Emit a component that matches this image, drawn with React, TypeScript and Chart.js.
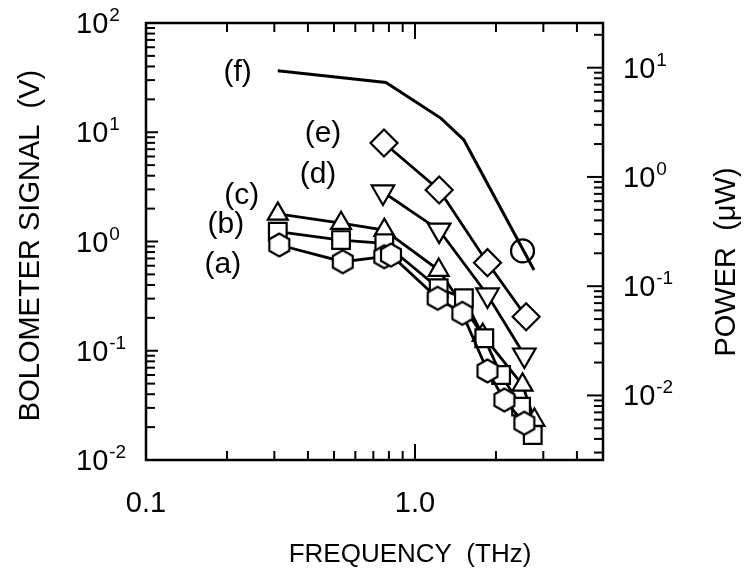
import React, { useEffect, useRef } from "react";
import { Chart, registerables } from "chart.js";

Chart.register(...registerables);

// ---- data (frequency in THz, bolometer signal in V) ----
const aFreq = [0.313, 0.539, 0.769, 0.814, 1.214, 1.5, 1.86, 2.15, 2.55];
const aVal = [0.929, 0.653, 0.726, 0.751, 0.302, 0.22, 0.0653, 0.0354, 0.0217];

const bFreq = [0.309, 0.531, 0.769, 1.225, 1.52, 1.81, 2.09, 2.48, 2.74];
const bVal = [1.23, 1.03, 0.963, 0.373, 0.302, 0.13, 0.06, 0.0308, 0.0169];

const cFreq = [0.309, 0.531, 0.769, 1.225, 1.785, 2.51, 2.78];
const cVal = [1.79, 1.47, 1.27, 0.548, 0.139, 0.0487, 0.0232];

const dFreq = [0.76, 1.23, 1.86, 2.55];
const dVal = [2.84, 1.27, 0.324, 0.0914];

const eFreq = [0.767, 1.23, 1.86, 2.59];
const eVal = [7.98, 2.96, 0.64, 0.205];

const fFreq = [0.309, 0.78, 1.25, 1.52, 2.77];
const fVal = [36.6, 28.5, 13.4, 8.5, 0.548];

const circleFreq = [2.51];
const circleVal = [0.82];

// series labels and where they sit (data coordinates)
const seriesLabels = ["(a)", "(b)", "(c)", "(d)", "(e)", "(f)"];
const labelFreq = [0.193, 0.198, 0.227, 0.436, 0.455, 0.219];
const labelVal = [0.609, 1.42, 2.61, 4.06, 9.64, 34.8];

// axis ticks
const xMajorTicks = [1];
const xMinorTicks = [0.2, 0.3, 0.4, 0.5, 0.6, 0.7, 0.8, 0.9, 2, 3, 4];
const xTickLabels = ["0.1", "1.0"];
const xTickLabelValues = [0.1, 1];
const leftExponents = [2, 1, 0, -1, -2];
const rightExponents = [1, 0, -1, -2];
const minorMultipliers = [2, 3, 4, 5, 6, 7, 8, 9];
const powerFactor = 0.2565; // POWER (uW) per BOLOMETER volt

const FONT = '"Liberation Sans", Arial, Helvetica, sans-serif';

function pts(xs: number[], ys: number[]) {
  return xs.map((x, i) => ({ x, y: ys[i] }));
}

function makeHex(r: number, lw: number) {
  const size = Math.ceil(2 * r + lw * 2 + 2);
  const c = document.createElement("canvas");
  c.width = size;
  c.height = size;
  const g = c.getContext("2d")!;
  g.beginPath();
  for (let i = 0; i < 6; i++) {
    const ang = Math.PI / 2 + (i * Math.PI) / 3;
    const px = size / 2 + r * Math.cos(ang);
    const py = size / 2 - r * Math.sin(ang);
    if (i === 0) g.moveTo(px, py);
    else g.lineTo(px, py);
  }
  g.closePath();
  g.fillStyle = "#fff";
  g.fill();
  g.lineWidth = lw;
  g.strokeStyle = "#000";
  g.stroke();
  return c;
}

function drawPow(ctx: CanvasRenderingContext2D, exp: number, x: number, y: number) {
  const base = "10";
  ctx.textAlign = "left";
  ctx.textBaseline = "alphabetic";
  ctx.font = `29px ${FONT}`;
  const bw = ctx.measureText(base).width;
  const baseline = y + 10;
  ctx.fillText(base, x, baseline);
  ctx.font = `19px ${FONT}`;
  ctx.fillText(String(exp), x + bw + 1, baseline - 12);
}

const framePlugin = {
  id: "frame",
  afterDraw(chart: any) {
    const { ctx, chartArea: a, scales } = chart;
    const xs = scales.x;
    const ys = scales.y;
    const y2 = scales.y2;
    ctx.save();
    ctx.strokeStyle = "#000";
    ctx.fillStyle = "#000";
    ctx.lineWidth = 2.5;
    ctx.strokeRect(a.left, a.top, a.right - a.left, a.bottom - a.top);

    const line = (x1: number, y1: number, x2: number, y2p: number) => {
      ctx.beginPath();
      ctx.moveTo(x1, y1);
      ctx.lineTo(x2, y2p);
      ctx.stroke();
    };
    ctx.lineWidth = 2;
    const MAJ = 16;
    const MIN = 9;
    // x ticks (top and bottom, inward)
    for (const v of xMajorTicks) {
      const px = xs.getPixelForValue(v);
      line(px, a.bottom, px, a.bottom - MAJ);
      line(px, a.top, px, a.top + MAJ);
    }
    for (const v of xMinorTicks) {
      const px = xs.getPixelForValue(v);
      line(px, a.bottom, px, a.bottom - MIN);
      line(px, a.top, px, a.top + MIN);
    }
    // left y ticks
    for (const e of leftExponents) {
      const py = ys.getPixelForValue(Math.pow(10, e));
      line(a.left, py, a.left + MAJ - 4, py);
      if (e < 2) {
        for (const m of minorMultipliers) {
          const pm = ys.getPixelForValue(m * Math.pow(10, e));
          line(a.left, pm, a.left + MIN, pm);
        }
      }
    }
    // right y ticks
    for (let e = -3; e <= 1; e++) {
      const v = Math.pow(10, e);
      if (v >= y2.min && v <= y2.max) {
        const py = y2.getPixelForValue(v);
        line(a.right, py, a.right - MAJ, py);
      }
      for (const m of minorMultipliers) {
        const mv = m * v;
        if (mv >= y2.min && mv <= y2.max) {
          const pm = y2.getPixelForValue(mv);
          line(a.right, pm, a.right - MIN, pm);
        }
      }
    }

    // tick labels
    for (const e of leftExponents) {
      drawPow(ctx, e, 76, ys.getPixelForValue(Math.pow(10, e)));
    }
    for (const e of rightExponents) {
      drawPow(ctx, e, 623, y2.getPixelForValue(Math.pow(10, e)));
    }
    ctx.font = `29px ${FONT}`;
    ctx.textAlign = "center";
    ctx.textBaseline = "alphabetic";
    xTickLabels.forEach((t, i) => {
      ctx.fillText(t, xs.getPixelForValue(xTickLabelValues[i]), 512);
    });

    // axis titles
    ctx.font = `26px ${FONT}`;
    ctx.textAlign = "center";
    ctx.fillText("FREQUENCY  (THz)", 410, 562);

    ctx.font = `29px ${FONT}`;
    ctx.save();
    ctx.translate(39, (a.top + a.bottom) / 2 + 4);
    ctx.rotate(-Math.PI / 2);
    ctx.textBaseline = "alphabetic";
    ctx.fillText("BOLOMETER SIGNAL  (V)", 0, 0);
    ctx.restore();

    ctx.save();
    ctx.translate(735, 262);
    ctx.rotate(-Math.PI / 2);
    ctx.fillText("POWER  (\u03BCW)", 0, 0);
    ctx.restore();

    // series labels
    ctx.font = `30px ${FONT}`;
    ctx.textAlign = "center";
    ctx.textBaseline = "middle";
    seriesLabels.forEach((t, i) => {
      ctx.fillText(t, xs.getPixelForValue(labelFreq[i]), ys.getPixelForValue(labelVal[i]));
    });
    ctx.restore();
  },
};

export default function App() {
  const ref = useRef<HTMLCanvasElement | null>(null);
  useEffect(() => {
    if (!ref.current) return;
    const hex = makeHex(11.5, 2.2);
    const common = {
      showLine: true,
      borderColor: "#000",
      borderWidth: 2.8,
      pointBackgroundColor: "#fff",
      pointBorderColor: "#000",
      pointBorderWidth: 2.2,
    };
    const chart = new Chart(ref.current, {
      type: "scatter",
      data: {
        datasets: [
          { ...common, label: "(a)", data: pts(aFreq, aVal), pointStyle: hex as any, pointRadius: 11.5 },
          { ...common, label: "(b)", data: pts(bFreq, bVal), pointStyle: "rect", pointRadius: 12.5 },
          { ...common, label: "(c)", data: pts(cFreq, cVal), pointStyle: "triangle", pointRadius: 11.5 },
          { ...common, label: "(d)", data: pts(dFreq, dVal), pointStyle: "triangle", pointRotation: 180, pointRadius: 13 },
          { ...common, label: "(e)", data: pts(eFreq, eVal), pointStyle: "rectRot", pointRadius: 13.5 },
          { ...common, label: "(f)", data: pts(fFreq, fVal), pointRadius: 0, borderWidth: 3 },
          { ...common, label: "(f) point", data: pts(circleFreq, circleVal), showLine: false, pointStyle: "circle", pointRadius: 11.5, pointBackgroundColor: "rgba(0,0,0,0)" },
        ],
      } as any,
      options: {
        animation: false,
        responsive: false,
        devicePixelRatio: 1,
        layout: { padding: { left: 146, right: 141, top: 23, bottom: 120 } },
        plugins: { legend: { display: false }, tooltip: { enabled: false } },
        scales: {
          x: { type: "logarithmic", min: 0.1, max: 5, display: false },
          y: { type: "logarithmic", min: 0.01, max: 100, display: false },
          y2: {
            type: "logarithmic",
            position: "right",
            min: 0.01 * powerFactor,
            max: 100 * powerFactor,
            display: false,
          },
        },
      } as any,
      plugins: [framePlugin as any],
    });
    return () => chart.destroy();
  }, []);
  return (
    <div style={{ position: "absolute", left: 0, top: 0, width: 744, height: 580, background: "#fff" }}>
      <canvas ref={ref} width={744} height={580} style={{ width: 744, height: 580 }} />
    </div>
  );
}
